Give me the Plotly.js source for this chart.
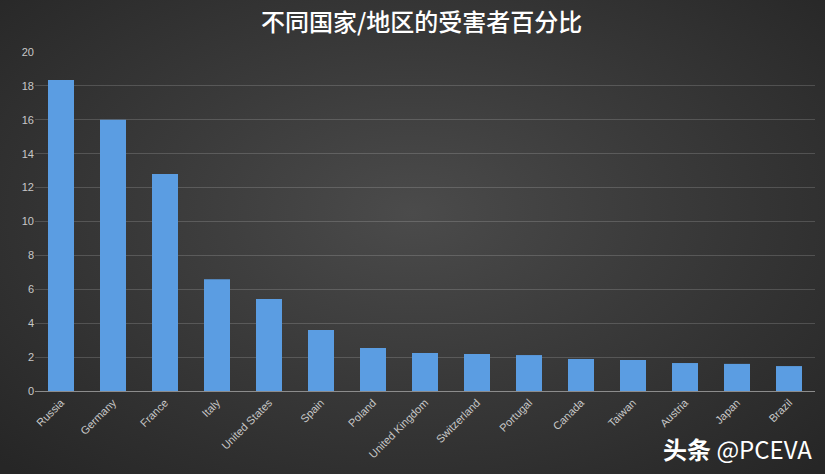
<!DOCTYPE html>
<html>
<head>
<meta charset="utf-8">
<script src="https://cdn.plot.ly/plotly-3.0.1.min.js"></script>
<style>
html,body{margin:0;padding:0;}
#wrap{width:825px;height:474px;background:radial-gradient(ellipse 70% 75% at 50% 45%, #4b4b4b 0%, #3a3a3a 45%, #262626 100%);}
#chart{width:825px;height:474px;}
</style>
</head>
<body>
<div id="wrap"><div id="chart"></div></div>
<script>
const countries = ["Russia","Germany","France","Italy","United States","Spain","Poland","United Kingdom","Switzerland","Portugal","Canada","Taiwan","Austria","Japan","Brazil"];
const percentages = [18.35,16.0,12.8,6.6,5.43,3.6,2.54,2.24,2.18,2.12,1.89,1.83,1.65,1.6,1.47];
const yTicks = [0,2,4,6,8,10,12,14,16,18,20];
const titleText = "不同国家/地区的受害者百分比";
const watermarkCn = "头条";
const watermarkEn = "@PCEVA";

const trace = {
  type: "bar",
  x: countries,
  y: percentages,
  marker: {color: "#5b9de2", line: {width: 0}},
  hoverinfo: "x+y"
};

const layout = {
  width: 825, height: 474,
  paper_bgcolor: "rgba(0,0,0,0)",
  plot_bgcolor: "rgba(0,0,0,0)",
  margin: {l: 35, r: 10, t: 52, b: 83},
  bargap: 0.5,
  showlegend: false,
  title: {text: titleText, x: 0.511, xanchor: "center", y: 0.953, yanchor: "middle",
          font: {family: "Noto Sans CJK SC, sans-serif", size: 24, weight: 500, color: "#ffffff"}},
  xaxis: {
    tickangle: -45,
    tickfont: {family: "Liberation Sans, sans-serif", size: 11, color: "#c8c8c8"},
    showgrid: false, zeroline: false,
    showline: true, linecolor: "#8c8c8c", linewidth: 1,
    ticks: "", automargin: false
  },
  yaxis: {
    range: [0, 20],
    tickvals: yTicks,
    tickfont: {family: "Liberation Sans, sans-serif", size: 11, color: "#c8c8c8"},
    showgrid: true, gridcolor: "rgba(255,255,255,0.16)", gridwidth: 1,
    zeroline: false, showline: false, ticks: "", ticklen: 0,
    automargin: false
  },
  annotations: [{
    text: "<b>" + watermarkCn + "</b> " + watermarkEn, xref: "paper", yref: "paper", x: 0.999, y: -0.17,
    xanchor: "right", yanchor: "middle", showarrow: false,
    font: {family: "Noto Sans CJK SC, sans-serif", size: 24, color: "#ffffff"}
  }]
};

Plotly.newPlot("chart", [trace], layout, {displayModeBar: false, staticPlot: true});
</script>
</body>
</html>
